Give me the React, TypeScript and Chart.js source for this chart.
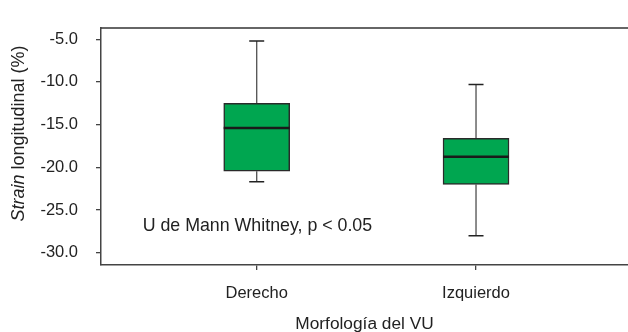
import React, { useEffect, useRef } from "react";
import { Chart, registerables } from "chart.js";

Chart.register(...registerables);

const categories = ["Derecho", "Izquierdo"];
const categoryX = [1, 2];
const whiskerHigh = [-5.2, -10.3];
const q3Values = [-12.5, -16.6];
const medians = [-15.4, -18.75];
const q1Values = [-20.45, -22.0];
const whiskerLow = [-21.7, -28.0];
const yTicks = [-5, -10, -15, -20, -25, -30];
const yMin = -31.44;
const yMax = -3.67;
const xMin = 0.29;
const xMax = 2.693;
const annotationText = "U de Mann Whitney, p < 0.05";
const annotationPos = { x: 0.48, y: -27.4 };
const yTitleItalic = "Strain";
const yTitleRest = " longitudinal (%)";
const xTitle = "Morfología del VU";

const FONT = "'Liberation Sans', Arial, Helvetica, sans-serif";
const TEXT = "#222222";
const GREEN = "#00a650";

const boxPlugin = {
  id: "boxExtras",
  beforeDatasetsDraw(chart: any) {
    const { ctx, scales } = chart;
    const x = scales.x;
    const y = scales.y;
    ctx.save();
    categoryX.forEach((cx, i) => {
      const px = x.getPixelForValue(cx);
      ctx.strokeStyle = "#505050";
      ctx.lineWidth = 1.3;
      ctx.beginPath();
      ctx.moveTo(px, y.getPixelForValue(whiskerHigh[i]));
      ctx.lineTo(px, y.getPixelForValue(q3Values[i]));
      ctx.moveTo(px, y.getPixelForValue(q1Values[i]));
      ctx.lineTo(px, y.getPixelForValue(whiskerLow[i]));
      ctx.stroke();
      ctx.strokeStyle = "#222";
      ctx.lineWidth = 1.5;
      ctx.beginPath();
      const hy = y.getPixelForValue(whiskerHigh[i]);
      const ly = y.getPixelForValue(whiskerLow[i]);
      ctx.moveTo(px - 7.5, hy);
      ctx.lineTo(px + 7.5, hy);
      ctx.moveTo(px - 7.5, ly);
      ctx.lineTo(px + 7.5, ly);
      ctx.stroke();
    });
    ctx.restore();
  },
  afterDatasetsDraw(chart: any) {
    const { ctx, scales, chartArea } = chart;
    const x = scales.x;
    const y = scales.y;
    ctx.save();
    categoryX.forEach((cx, i) => {
      const px = x.getPixelForValue(cx);
      const my = y.getPixelForValue(medians[i]);
      ctx.strokeStyle = "#1a1a1a";
      ctx.lineWidth = 2.5;
      ctx.beginPath();
      ctx.moveTo(px - 33, my);
      ctx.lineTo(px + 33, my);
      ctx.stroke();
    });
    ctx.strokeStyle = "#333";
    ctx.lineWidth = 1.5;
    ctx.beginPath();
    ctx.moveTo(chartArea.left, chartArea.top);
    ctx.lineTo(chartArea.right, chartArea.top);
    ctx.stroke();
    ctx.fillStyle = TEXT;
    ctx.font = `17.8px ${FONT}`;
    ctx.textBaseline = "alphabetic";
    ctx.textAlign = "left";
    ctx.fillText(annotationText, x.getPixelForValue(annotationPos.x), y.getPixelForValue(annotationPos.y));
    const italicFont = `italic 18px ${FONT}`;
    const normalFont = `18px ${FONT}`;
    ctx.font = italicFont;
    const w1 = ctx.measureText(yTitleItalic).width;
    ctx.font = normalFont;
    const w2 = ctx.measureText(yTitleRest).width;
    const total = w1 + w2;
    ctx.translate(23.5, 133.5);
    ctx.rotate(-Math.PI / 2);
    ctx.textBaseline = "alphabetic";
    ctx.font = italicFont;
    ctx.fillText(yTitleItalic, -total / 2, 0);
    ctx.font = normalFont;
    ctx.fillText(yTitleRest, -total / 2 + w1, 0);
    ctx.restore();
  },
};

export default function App() {
  const ref = useRef<HTMLCanvasElement>(null);
  useEffect(() => {
    document.body.style.margin = "0";
    const canvas = ref.current!;
    const chart = new Chart(canvas, {
      type: "bar",
      data: {
        datasets: [
          {
            data: categoryX.map((cx, i) => ({ x: cx, y: [q1Values[i], q3Values[i]] })) as any,
            backgroundColor: GREEN,
            borderColor: "#2a2a2a",
            borderWidth: 1.5,
            borderSkipped: false,
            barThickness: 66,
          },
        ],
      },
      options: {
        responsive: false,
        animation: false,
        layout: { padding: { top: 14, right: 0, left: 0, bottom: 0 } },
        plugins: { legend: { display: false }, tooltip: { enabled: false }, title: { display: false } },
        scales: {
          x: {
            type: "linear",
            min: xMin,
            max: xMax,
            offset: false,
            afterBuildTicks: (scale: any) => {
              scale.ticks = categoryX.map((v) => ({ value: v }));
            },
            afterFit: (scale: any) => {
              scale.height = 67;
            },
            ticks: {
              autoSkip: false,
              maxRotation: 0,
              padding: 14,
              color: TEXT,
              font: { family: FONT, size: 16.5 },
              callback: (v: any) => {
                const idx = categoryX.indexOf(Number(v));
                return idx >= 0 ? categories[idx] : "";
              },
            },
            grid: { offset: false, drawOnChartArea: false, drawTicks: true, tickLength: 5, color: "#444", lineWidth: 1.3 },
            border: { display: true, color: "#444", width: 1.5 },
            title: { display: true, text: xTitle, color: TEXT, font: { family: FONT, size: 17.3 }, padding: { top: 0, bottom: -3 } },
          },
          y: {
            type: "linear",
            min: yMin,
            max: yMax,
            afterBuildTicks: (scale: any) => {
              scale.ticks = yTicks.map((v) => ({ value: v }));
            },
            afterFit: (scale: any) => {
              scale.width = 101;
            },
            ticks: {
              padding: 18,
              color: TEXT,
              font: { family: FONT, size: 16.5 },
              callback: (v: any) => Number(v).toFixed(1),
            },
            grid: { drawOnChartArea: false, drawTicks: true, tickLength: 5, color: "#444", lineWidth: 1.3 },
            border: { display: true, color: "#444", width: 1.5 },
          },
        },
      },
      plugins: [boxPlugin],
    });
    return () => chart.destroy();
  }, []);
  return <canvas ref={ref} width={628} height={332} style={{ display: "block", width: 628, height: 332 }} />;
}
